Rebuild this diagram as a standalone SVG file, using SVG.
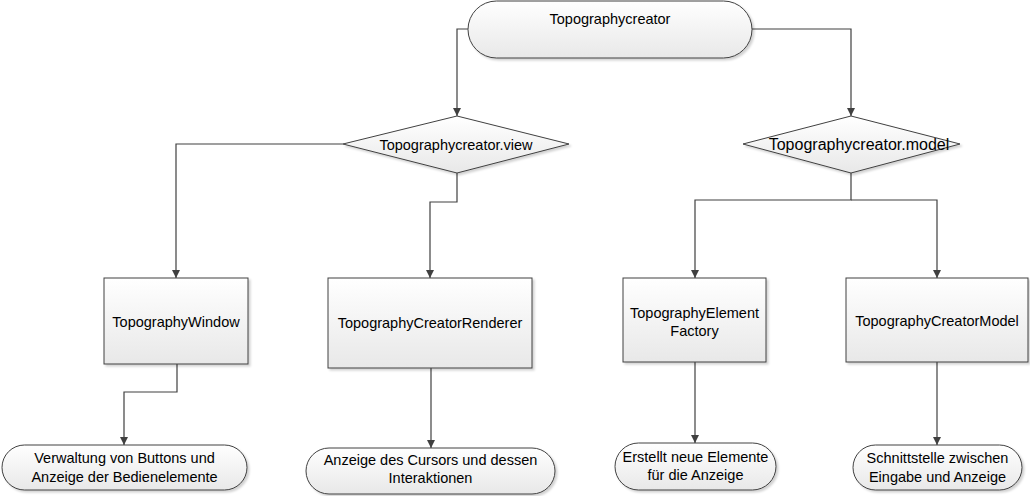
<svg xmlns="http://www.w3.org/2000/svg" width="1030" height="496" viewBox="0 0 1030 496">
<defs>
<linearGradient id="g" x1="0" y1="0" x2="0" y2="1">
<stop offset="0" stop-color="#ffffff"/>
<stop offset="1" stop-color="#e8e8e8"/>
</linearGradient>
<filter id="sh" x="-5%" y="-5%" width="115%" height="120%">
<feDropShadow dx="2" dy="2" stdDeviation="1.2" flood-color="#000" flood-opacity="0.18"/>
</filter>
<marker id="arr" markerWidth="10" markerHeight="10" refX="9" refY="5" orient="auto" markerUnits="userSpaceOnUse">
<path d="M1,1 L9,5 L1,9 Z" fill="#404040"/>
</marker>
<style>
.shape{fill:url(#g);stroke:#404040;stroke-width:1;filter:url(#sh)}
.lbl{font-family:"Liberation Sans",Arial,sans-serif;font-size:14.5px;fill:#000;text-anchor:middle}
.con{fill:none;stroke:#404040;stroke-width:1.2;marker-end:url(#arr)}
</style>
</defs>
<rect width="1030" height="496" fill="#ffffff"/>
<g id="connectors">
<path class="con" d="M468,29 H457 V116"/>
<path class="con" d="M752,29 H851 V116"/>
<path class="con" d="M343,144 H176 V278"/>
<path class="con" d="M457,173 V202 H430 V278"/>
<path class="con" d="M851,173 V200 H695 V278"/>
<path class="con" d="M851,200 H937 V278"/>
<path class="con" d="M177,364 V392 H124 V445"/>
<path class="con" d="M431,368 V448"/>
<path class="con" d="M695,362 V443"/>
<path class="con" d="M937,362 V445"/>
</g>
<g id="topographycreator">
<rect class="shape" x="468" y="1" width="284" height="57" rx="28.5"/>
<text class="lbl" x="610" y="24">Topographycreator</text>
</g>
<g id="view">
<polygon class="shape" points="457,116 569,144 457,173 343,144"/>
<text class="lbl" x="456" y="150">Topographycreator.view</text>
</g>
<g id="model">
<polygon class="shape" points="851,116 960,144 851,173 743,144"/>
<text class="lbl" x="859" y="150" style="font-size:16px">Topographycreator.model</text>
</g>
<g id="window">
<rect class="shape" x="104" y="278" width="144" height="86"/>
<text class="lbl" x="176" y="327">TopographyWindow</text>
</g>
<g id="renderer">
<rect class="shape" x="328" y="278" width="204" height="90"/>
<text class="lbl" x="430" y="328">TopographyCreatorRenderer</text>
</g>
<g id="factory">
<rect class="shape" x="623" y="278" width="143" height="84"/>
<text class="lbl" x="694.5" y="318">TopographyElement</text>
<text class="lbl" x="694.5" y="336">Factory</text>
</g>
<g id="creatormodel">
<rect class="shape" x="846" y="278" width="182" height="84"/>
<text class="lbl" x="937" y="326">TopographyCreatorModel</text>
</g>
<g id="t-window">
<rect class="shape" x="2" y="445" width="245" height="45" rx="22.5"/>
<text class="lbl" x="124.5" y="463">Verwaltung von Buttons und</text>
<text class="lbl" x="124.5" y="482">Anzeige der Bedienelemente</text>
</g>
<g id="t-renderer">
<rect class="shape" x="306" y="448" width="249" height="46" rx="23"/>
<text class="lbl" x="430.5" y="465">Anzeige des Cursors und dessen</text>
<text class="lbl" x="430.5" y="483">Interaktionen</text>
</g>
<g id="t-factory">
<rect class="shape" x="615" y="443" width="161" height="47" rx="23.5"/>
<text class="lbl" x="695.5" y="462">Erstellt neue Elemente</text>
<text class="lbl" x="695.5" y="480">für die Anzeige</text>
</g>
<g id="t-model">
<rect class="shape" x="853" y="445" width="169" height="45" rx="22.5"/>
<text class="lbl" x="937.5" y="463">Schnittstelle zwischen</text>
<text class="lbl" x="937.5" y="482">Eingabe und Anzeige</text>
</g>
</svg>
